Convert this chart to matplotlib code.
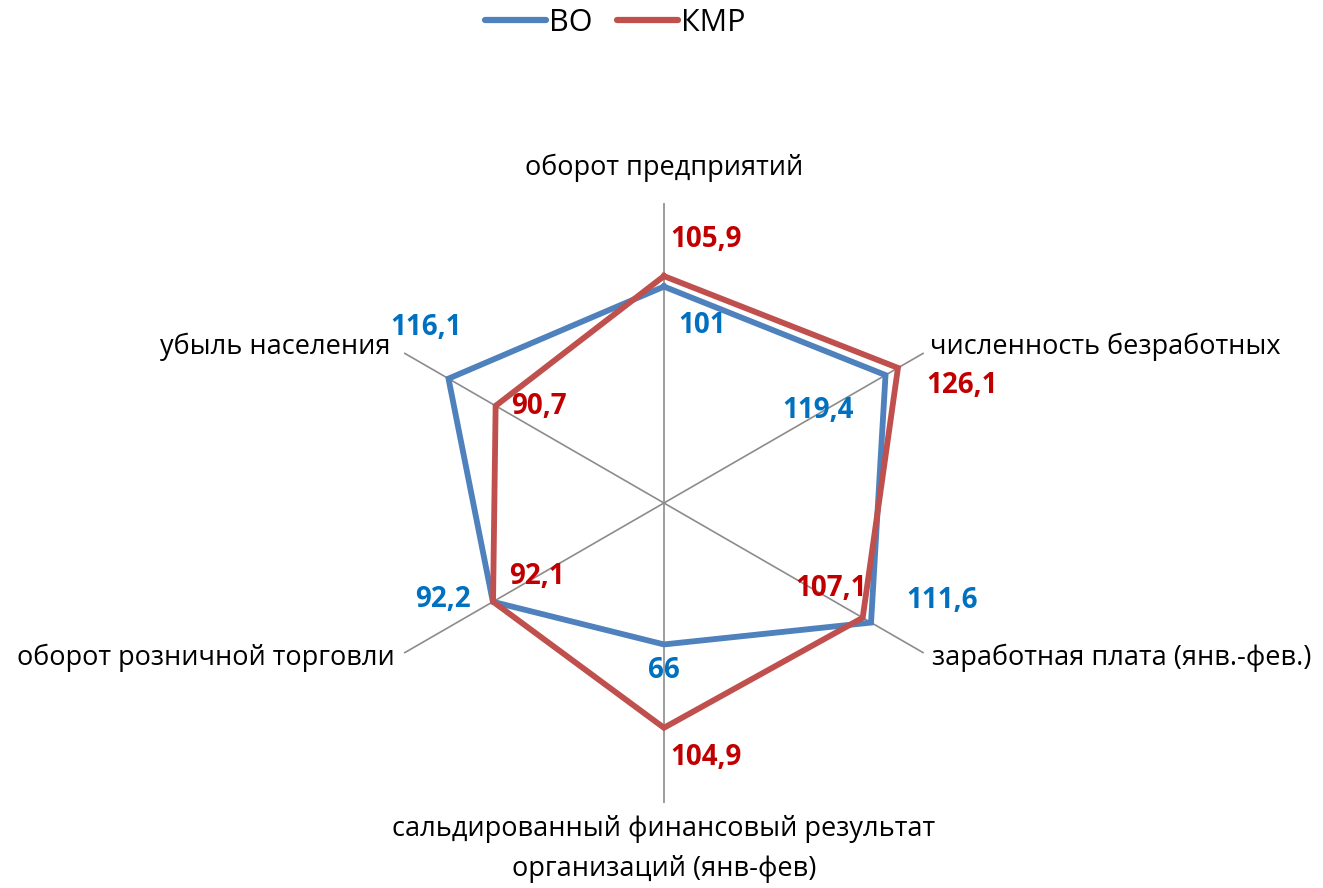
import numpy as np
import matplotlib.pyplot as plt

plt.rcParams['font.family'] = ['Open Sans', 'DejaVu Sans']

# Data
categories = ["оборот предприятий", "численность безработных",
              "заработная плата (янв.-фев.)",
              "сальдированный финансовый результат\nорганизаций (янв-фев)",
              "оборот розничной торговли", "убыль населения"]
vo_values = [101, 119.4, 111.6, 66, 92.2, 116.1]
kmr_values = [105.9, 126.1, 107.1, 104.9, 92.1, 90.7]
r_max = 140

vo_color = '#4F81BD'
kmr_color = '#C0504D'
vo_lbl = '#0070C0'
kmr_lbl = '#C00000'

# label offsets in pixels (dx, dy)
vo_offsets = [(38, -39), (-68, -35), (71, 22), (0, -26), (-50, 2), (-22, 51)]
kmr_offsets = [(42, 37), (64, -18), (-32, 29), (42, -30), (44, 25), (43, -1)]

# category label placement: (dx, dy, ha, va)
cat_place = [(0, 35, 'center', 'center'), (6, 6, 'left', 'center'),
             (8, -5, 'left', 'center'), (0, -12, 'center', 'top'),
             (-9, -5, 'right', 'center'), (-14, 6, 'right', 'center')]

n = len(categories)
angles = np.arange(n) * 2 * np.pi / n

fig = plt.figure(figsize=(13.23, 8.88), dpi=100)
ax = fig.add_axes([0.2751, 0.0957, 0.4535, 0.6757], projection='polar')
ax.set_theta_zero_location('N')
ax.set_theta_direction(-1)
ax.set_ylim(0, r_max)
ax.set_yticks([])
ax.set_xticks([])
ax.grid(False)
ax.spines['polar'].set_visible(False)

# spokes
for a in angles:
    ax.plot([a, a], [0, r_max], color='#8C8C8C', lw=1.2, zorder=1)

ang_closed = np.append(angles, angles[0])
ax.plot(ang_closed, vo_values + vo_values[:1], color=vo_color, lw=4.2,
        label='ВО', solid_joinstyle='miter', zorder=3)
ax.plot(ang_closed, kmr_values + kmr_values[:1], color=kmr_color, lw=4.2,
        label='КМР', solid_joinstyle='miter', zorder=4)

def fmt(v):
    return f"{v:g}".replace('.', ',')

for a, v, off in zip(angles, vo_values, vo_offsets):
    ax.annotate(fmt(v), (a, v), xytext=off, textcoords='offset pixels',
                ha='center', va='center', color=vo_lbl, fontsize=20,
                fontweight='bold', zorder=5)
for a, v, off in zip(angles, kmr_values, kmr_offsets):
    ax.annotate(fmt(v), (a, v), xytext=off, textcoords='offset pixels',
                ha='center', va='center', color=kmr_lbl, fontsize=20,
                fontweight='bold', zorder=5)

for a, lab, (dx, dy, ha, va) in zip(angles, categories, cat_place):
    ax.annotate(lab, (a, r_max), xytext=(dx, dy), textcoords='offset pixels',
                ha=ha, va=va, fontsize=19.5, color='black',
                multialignment='center', linespacing=1.55,
                annotation_clip=False)

leg = fig.legend(loc='upper center', bbox_to_anchor=(0.465, 1.022), ncol=2,
                 frameon=False, fontsize=22, handlelength=2.0,
                 handletextpad=0.1, columnspacing=0.8)
for h in leg.get_lines():
    h.set_linewidth(4.5)
    h.set_solid_capstyle('round')

fig.savefig('out.png', dpi=100)
